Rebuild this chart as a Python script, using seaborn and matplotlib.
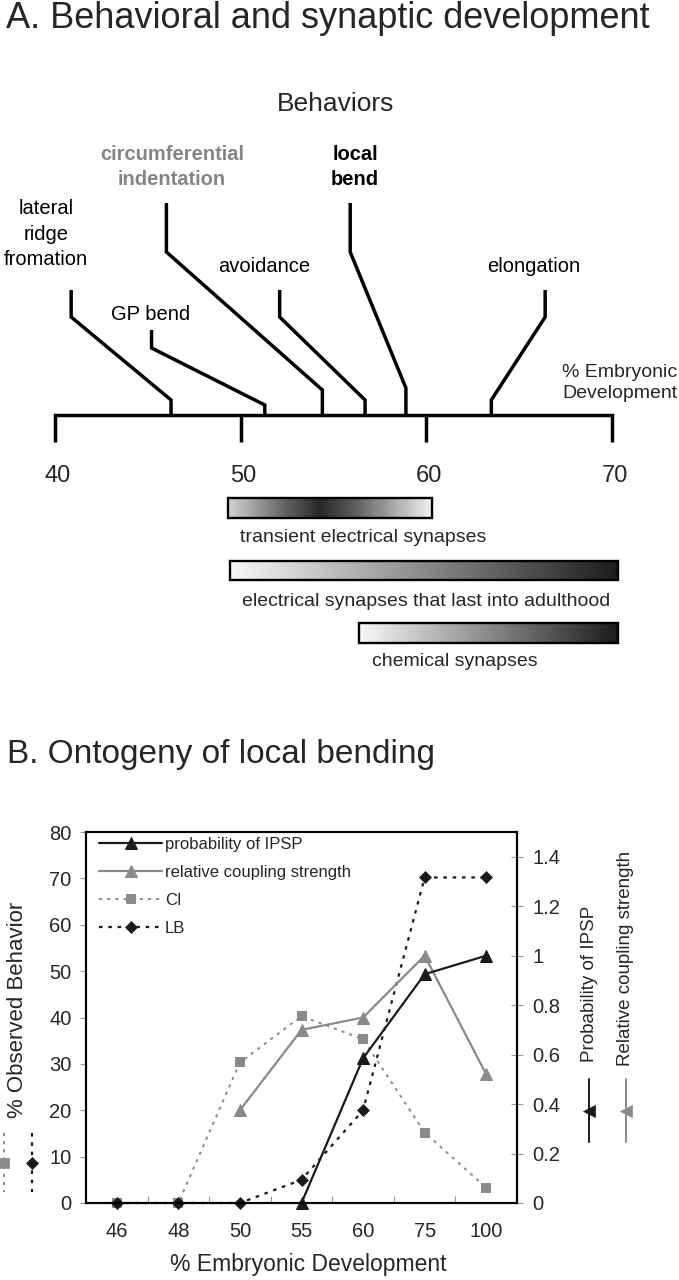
import numpy as np
import pandas as pd
import seaborn as sns
import matplotlib.pyplot as plt
from matplotlib.colors import LinearSegmentedColormap
from matplotlib.lines import Line2D
from matplotlib.patches import Rectangle

# ---- panel A data ----
timeline_ticks = [40, 50, 60, 70]
behaviors = ['lateral\nridge\nfromation', 'GP bend', 'circumferential\nindentation',
             'avoidance', 'local\nbend', 'elongation']
behavior_onset = [46.25, 51.3, 54.4, 56.7, 58.9, 63.5]
synapses = ['transient electrical synapses',
            'electrical synapses that last into adulthood',
            'chemical synapses']
synapse_start = [49.3, 49.4, 56.4]
synapse_end = [60.3, 70.3, 70.3]

# ---- panel B data ----
stages = ['46', '48', '50', '55', '60', '75', '100']
ipsp = [np.nan, np.nan, np.nan, 0.0, 0.585, 0.925, 1.0]
coupling = [np.nan, np.nan, 0.375, 0.70, 0.75, 1.0, 0.52]
ci = [0, 0, 30.3, 40.3, 35.3, 15.2, 3.3]
lb = [0, 0, 0, 5.0, 20.0, 70.2, 70.2]
left_ticks = list(range(0, 81, 10))
right_ticks = [0, 0.2, 0.4, 0.6, 0.8, 1.0, 1.2, 1.4]
right_ticklabels = ['0', '0.2', '0.4', '0.6', '0.8', '1', '1.2', '1.4']

sns.set_style('white')
plt.rcParams['font.family'] = ['Liberation Sans', 'DejaVu Sans']

W, H = 679, 1280
fig = plt.figure(figsize=(W / 100, H / 100), dpi=100)


def fx(px):
    return px / W


def fy(py):
    return 1 - py / H


def val(px):
    # pixel column -> % embryonic development on the timeline
    return 40 + (px - 55) / (557 / 30)


# ================= panel A =================
fig.text(fx(6), fy(28), 'A. Behavioral and synaptic development', fontsize=26, va='baseline')

axA = fig.add_axes([fx(55), fy(700), fx(612) - fx(55), fy(40) - fy(700)])
axA.set_xlim(40, 70)
axA.set_ylim(700, 40)
axA.axis('off')

LW = 2.5
axA.text(val(336), 111, 'Behaviors', ha='center', va='baseline', fontsize=19)

# timeline
axA.plot([40, 40, 70, 70], [442, 415, 415, 442], color='black', lw=LW,
         solid_joinstyle='miter', solid_capstyle='butt', clip_on=False)
for t in timeline_ticks[1:-1]:
    axA.plot([t, t], [415, 442], color='black', lw=LW, solid_capstyle='butt')
for t in timeline_ticks:
    axA.text(t + 0.15, 476, str(t), ha='center', va='center', fontsize=17)

# leader lines for behaviours
leader_top_x = [40.87, 45.2, 46.0, 52.1, 55.9, 66.4]
leader_rows = [(400, 317, 290), (405, 348, 330), (390, 252, 203),
               (400, 317, 290), (388, 252, 203), (400, 317, 290)]
label_pos = [(39.52, 234), (45.17, 315), (46.3, 167), (51.26, 267), (56.16, 167), (65.8, 267)]
label_style = [('black', 'normal'), ('black', 'normal'), ('#858585', 'bold'),
               ('black', 'normal'), ('black', 'bold'), ('black', 'normal')]
for name, onset, tx, rows, lp, st in zip(behaviors, behavior_onset, leader_top_x,
                                         leader_rows, label_pos, label_style):
    axA.plot([onset, onset, tx, tx], [415, rows[0], rows[1], rows[2]], color='black', lw=LW,
             solid_capstyle='butt', solid_joinstyle='miter', clip_on=False)
    axA.text(lp[0], lp[1], name, ha='center', va='center', fontsize=14.5, color=st[0],
             fontweight=st[1], linespacing=1.42)

axA.text(val(562), 383, '% Embryonic\nDevelopment', ha='left', va='center', fontsize=14,
         linespacing=1.3)

# synapse bars
ramp = np.linspace(0, 1, 256)[None, :]
cmaps = [LinearSegmentedColormap.from_list('tr', [(0, '#d4d4d4'), (0.3, '#5a5a5a'),
                                                  (0.45, '#282828'), (0.62, '#5e5e5e'),
                                                  (1, '#f3f3f3')]),
         LinearSegmentedColormap.from_list('el', ['#f8f8f8', '#1c1c1c']),
         LinearSegmentedColormap.from_list('ch', ['#f8f8f8', '#1c1c1c'])]
bar_rows = [(498, 518), (561, 580), (623, 643)]
caption_rows = [538, 602, 662]
for name, x0, x1, cm, (top, bot), cr in zip(synapses, synapse_start, synapse_end, cmaps,
                                             bar_rows, caption_rows):
    axA.imshow(ramp, cmap=cm, extent=(x0, x1, bot, top), aspect='auto',
               interpolation='bilinear', clip_on=False)
    axA.add_patch(Rectangle((x0, top), x1 - x0, bot - top, fill=False, ec='black', lw=1.7,
                            clip_on=False))
    axA.text(x0 + 0.65, cr, name, ha='left', va='center', fontsize=14)
axA.set_xlim(40, 70)
axA.set_ylim(700, 40)

# ================= panel B =================
fig.text(fx(7), fy(763), 'B. Ontogeny of local bending', fontsize=24, va='baseline')

axB = fig.add_axes([fx(86), fy(1203), fx(517) - fx(86), fy(832) - fy(1203)])
axR = axB.twinx()

pos = np.arange(len(stages))
df = pd.DataFrame({'pos': pos, 'ipsp': ipsp, 'coupling': coupling, 'ci': ci, 'lb': lb})

dark = '#1a1a1a'
grey = '#8a8a8a'
dots = (0, (1.6, 2.6))

sns.lineplot(data=df, x='pos', y='ci', ax=axB, color=grey, linestyle=dots, lw=1.4,
             marker='s', markersize=7, markeredgewidth=0, label='CI', legend=False,
             clip_on=False)
sns.lineplot(data=df, x='pos', y='lb', ax=axB, color=dark, linestyle=dots, lw=1.6,
             marker='D', markersize=6, markeredgewidth=0.5, markeredgecolor=dark,
             label='LB', legend=False, clip_on=False)
sns.lineplot(data=df.dropna(subset=['coupling']), x='pos', y='coupling', ax=axR, color=grey,
             lw=1.6, marker='^', markersize=9, markeredgecolor=grey,
             label='relative coupling strength', legend=False, clip_on=False)
sns.lineplot(data=df.dropna(subset=['ipsp']), x='pos', y='ipsp', ax=axR, color=dark,
             lw=1.6, marker='^', markersize=9, markeredgecolor=dark,
             label='probability of IPSP', legend=False, clip_on=False)

axB.set_xlim(-0.5, len(stages) - 0.5)
axB.set_ylim(0, 80)
axB.set_yticks(left_ticks)
axR.set_ylim(0, 1.5)
axR.set_yticks(right_ticks)
axR.set_yticklabels(right_ticklabels)
axB.set_xticks(pos)
axB.set_xticklabels(stages)
axB.set_xticks(np.arange(0.5, len(stages) - 1), minor=True)

axB.tick_params(axis='x', which='major', length=0, labelsize=14.5, pad=14)
axB.tick_params(axis='x', which='minor', direction='in', length=5, width=0.8, color='#9a9a9a',
                bottom=True)
axB.tick_params(axis='y', direction='out', length=4.5, width=0.8, color='#9a9a9a',
                labelsize=14.5, pad=6, left=True)
axR.tick_params(axis='y', direction='inout', length=8, width=0.8, color='#9a9a9a',
                labelsize=14.5, pad=7, right=True)

for a in (axB, axR):
    for s in a.spines.values():
        s.set_color('black')
        s.set_linewidth(1.5)
        s.set_visible(True)

axB.set_xlabel('% Embryonic Development', fontsize=16.5)
axB.xaxis.set_label_coords(0.516, -0.135)
axB.set_ylabel('')
axR.set_ylabel('')
fig.text(fx(18), fy(1010), '% Observed Behavior', rotation=90, ha='center', va='center',
         fontsize=16)

h1, l1 = axR.get_legend_handles_labels()
h2, l2 = axB.get_legend_handles_labels()
handles = h1[::-1] + h2
labels = l1[::-1] + l2
axR.legend(handles, labels, loc='upper left', bbox_to_anchor=(0.03, 0.9865), frameon=False,
           fontsize=12, handlelength=3.8, handletextpad=0.15, labelspacing=0.78,
           borderpad=0, borderaxespad=0)

# rotated right-axis titles with their keys
fig.text(fx(589), fy(1062), 'Probability of IPSP', rotation=90, ha='center', va='bottom',
         fontsize=13.5)
fig.text(fx(626), fy(1066), 'Relative coupling strength', rotation=90, ha='center',
         va='bottom', fontsize=13.5)


def key(x, y0, y1, color, ls, marker, ms, lw=1.4):
    fig.add_artist(Line2D([fx(x)] * 3, [fy(y0), fy((y0 + y1) / 2), fy(y1)],
                          transform=fig.transFigure, color=color, ls=ls, lw=lw,
                          marker=marker, markevery=[1], ms=ms, mfc=color, mec=color, mew=0.5))


key(589, 1079, 1142, dark, '-', '<', 8)
key(626, 1079, 1142, grey, '-', '<', 8)
key(4, 1133, 1192, grey, dots, 's', 7)
key(32, 1133, 1192, dark, dots, 'D', 6, lw=1.6)

fig.savefig('out.png', dpi=100)
